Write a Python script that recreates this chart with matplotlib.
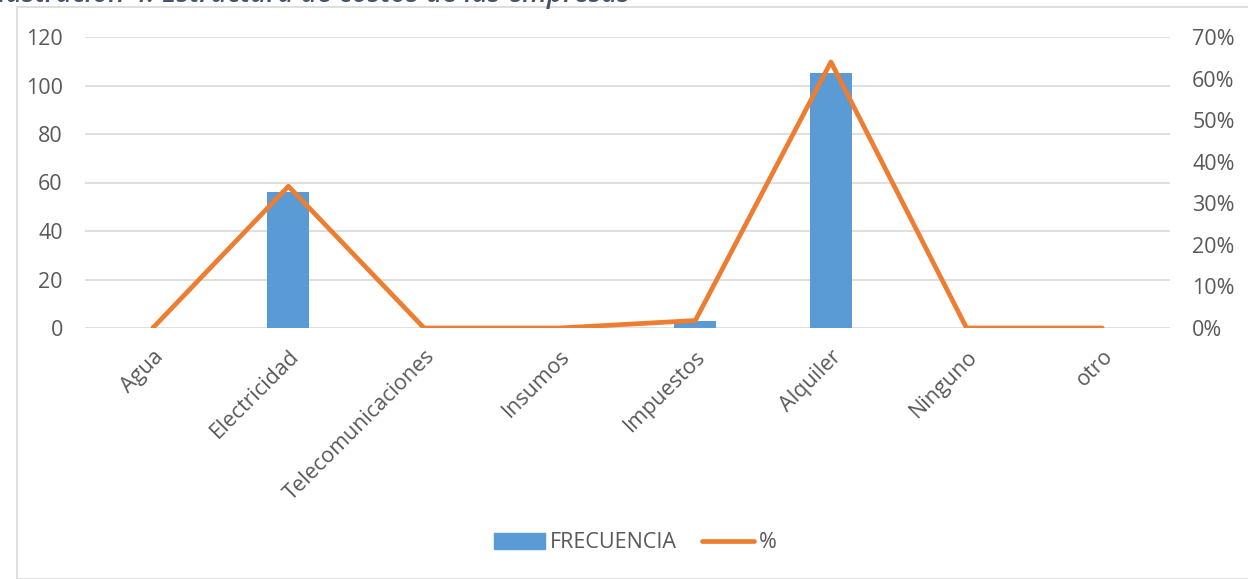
import matplotlib.pyplot as plt
import matplotlib.patches as mpatches
from matplotlib.lines import Line2D
import numpy as np

categorias = ["Agua", "Electricidad", "Telecomunicaciones", "Insumos",
              "Impuestos", "Alquiler", "Ninguno", "otro"]
frecuencia = [0, 56, 0, 0, 3, 105, 0, 0]
porcentaje = [0.0, 34.1, 0.0, 0.0, 1.8, 64.0, 0.0, 0.0]

plt.rcParams['font.family'] = ['Open Sans', 'DejaVu Sans']
gris = '#595959'

fig = plt.figure(figsize=(12.48, 5.79), dpi=100)
# marco del grafico
fig.patches.append(mpatches.Rectangle((17/1248, 0), 1.0, 1 - 7/579, transform=fig.transFigure,
                                      fill=False, edgecolor='#D9D9D9', linewidth=1.2))
# titulo (cortado arriba, como en el original)
fig.text(-10/1248, 1 - 2/579, "Ilustración 4. Estructura de costos de las empresas", fontsize=20,
         style='italic', weight='semibold', color='#44546A', va='baseline', ha='left')

ax = fig.add_axes([85/1248, 1 - 328/579, (1170 - 85)/1248, (328 - 37)/579])
x = np.arange(len(categorias))
ax.bar(x, frecuencia, width=0.31, color='#5B9BD5', zorder=2)
ax.set_xlim(-0.5, len(categorias) - 0.5)
ax.set_ylim(0, 120)
ax.set_yticks(range(0, 121, 20))
ax.grid(axis='y', color='#D9D9D9', linewidth=1.2, zorder=0)
ax.set_axisbelow(True)
for s in ax.spines.values():
    s.set_visible(False)
ax.tick_params(axis='both', length=0, colors=gris, labelsize=15.5)
ax.tick_params(axis='y', pad=16)
ax.set_xticks(x)
ax.set_xticklabels(categorias, rotation=45, ha='right', va='top', rotation_mode='anchor')
ax.tick_params(axis='x', pad=13)

ax2 = ax.twinx()
ax2.plot(x, porcentaje, color='#ED7D31', linewidth=3.4, solid_capstyle='round', zorder=3)
ax2.set_ylim(0, 70)
ax2.set_yticks(range(0, 71, 10))
ax2.set_yticklabels([f"{v}%" for v in range(0, 71, 10)])
for s in ax2.spines.values():
    s.set_visible(False)
ax2.tick_params(axis='y', length=0, colors=gris, labelsize=15.5, pad=16)

handles = [mpatches.Patch(color='#5B9BD5', label='FRECUENCIA'),
           Line2D([0], [0], color='#ED7D31', linewidth=3.4, solid_capstyle='round', label='%')]
leg = fig.legend(handles=handles, loc='center', bbox_to_anchor=(635/1248, 1 - 543/579),
                 ncol=2, frameon=False, fontsize=15.5, handlelength=2.4, columnspacing=1.2,
                 handletextpad=0.2)
for t in leg.get_texts():
    t.set_color(gris)

plt.savefig('out.png', dpi=100)
